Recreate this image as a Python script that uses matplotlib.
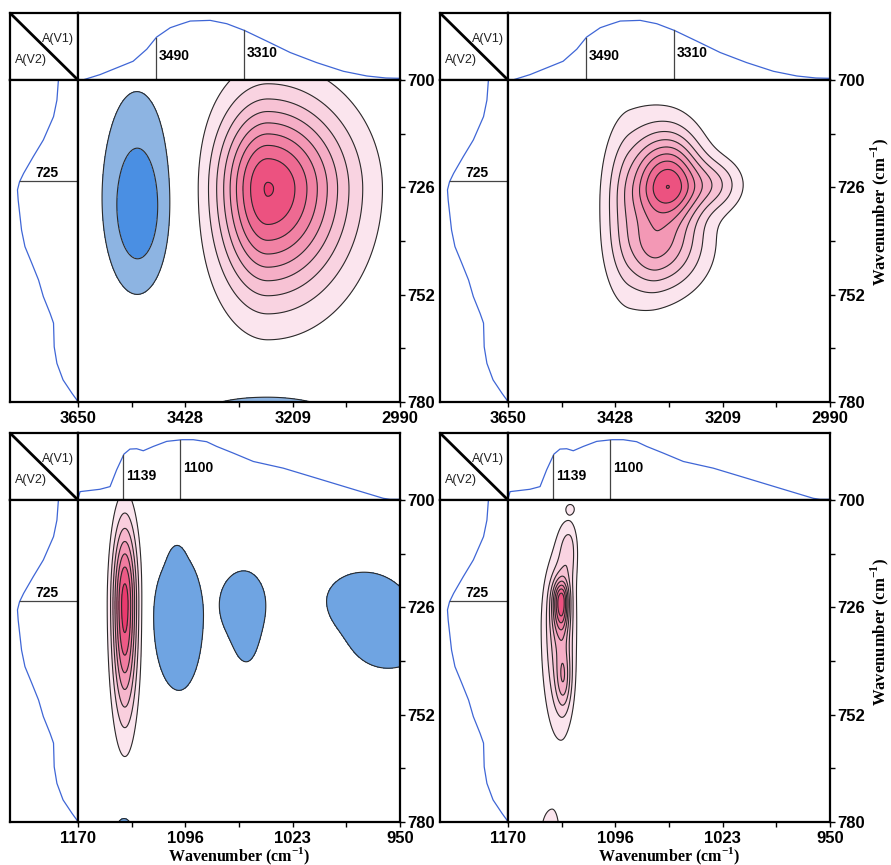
import numpy as np
import matplotlib.pyplot as plt
from matplotlib.colors import LinearSegmentedColormap
from matplotlib.transforms import offset_copy

plt.rcParams['font.family'] = ['Liberation Sans', 'DejaVu Sans']
plt.rcParams['mathtext.fontset'] = 'custom'
plt.rcParams['mathtext.rm'] = 'Liberation Serif'
plt.rcParams['mathtext.bf'] = 'Liberation Serif:bold'

# ---- 1D spectra ----
# top spectrum of the upper panels (O-H region)
oh_wn = [3636, 3605, 3571, 3537, 3509, 3489, 3461, 3441, 3420, 3379, 3345, 3309,
         3263, 3215, 3161, 3106, 3058, 3019, 2990]
oh_int = [0.01, 0.08, 0.18, 0.28, 0.46, 0.64, 0.78, 0.83, 0.88, 0.89, 0.84, 0.74,
          0.58, 0.41, 0.26, 0.13, 0.06, 0.03, 0.025]
oh_marks = [3490, 3310]

# top spectrum of the lower panels (C-O region)
co_wn = [1170, 1168.6, 1155, 1148.1, 1143.6, 1138.6, 1134.5, 1129.9, 1125.4, 1118.5,
         1109.4, 1098.9, 1091.2, 1082.1, 1075.3, 1063.9, 1050.2, 1029.7, 1006.9,
         984.2, 961.4, 956.8, 950]
co_int = [0.01, 0.125, 0.16, 0.2, 0.45, 0.685, 0.76, 0.765, 0.735, 0.8, 0.875, 0.9,
          0.9, 0.87, 0.8, 0.7, 0.575, 0.475, 0.325, 0.175, 0.025, 0.01, 0.01]
co_marks = [1139, 1100]

# left spectrum, same in all panels
ch_wn = [700.4, 705.0, 709.1, 714.9, 719.1, 723.2, 725.3, 727.3, 729.8, 737.3, 741.4,
         745.5, 749.7, 753.8, 758.0, 760.4, 766.3, 770.4, 774.5, 777.8, 779.9]
ch_int = [0.29, 0.31, 0.36, 0.51, 0.66, 0.80, 0.86, 0.89, 0.88, 0.83, 0.78, 0.68,
          0.58, 0.51, 0.41, 0.36, 0.35, 0.31, 0.22, 0.09, 0.0]
ch_mark = 725

# ---- 2D correlation peaks ----
# (x0, y0, width toward high x, width toward low x, width up, width down, amplitude)
sync_oh_peaks = [(3261, 727, 71, 112, 15, 17.9, 0.905),
                 (3529, 727, 60, 60, 22, 21, -0.18),
                 (3527, 733, 34, 34, 10, 10, -0.14),
                 (3262, 788, 114, 114, 6.3, 6.3, -0.33)]
async_oh_peaks = [(3318, 726, 50, 45, 8.5, 6.5, 0.7),
                  (3340, 742, 45, 65, 6, 7, 0.32),
                  (3400, 733, 40, 85, 16, 15, 0.3),
                  (3225, 726, 40, 40, 4.5, 4.5, 0.25)]
sync_co_peaks = [(1138, 726, 6, 6, 14, 18.8, 0.75),
                 (1101, 729, 9.75, 9.2, 8.5, 10.2, -0.5),
                 (1102.5, 716, 3.5, 3.5, 3, 3, -0.15),
                 (1057, 726, 9, 8.4, 4.6, 5, -0.5),
                 (1055, 732, 5.5, 5, 5, 5, -0.35),
                 (975, 725, 13.9, 14, 3.9, 4.5, -0.5),
                 (958, 733, 15, 15, 5, 4.9, -0.5),
                 (1138.5, 782.5, 3.2, 3.2, 1.95, 1.95, -0.5)]
async_co_peaks = [(1133.6, 725, 4, 3.5, 3.5, 5, 0.55),
                  (1134, 732, 8, 6.5, 12, 16.5, 0.4),
                  (1128, 712, 5, 4, 5, 6, 0.2),
                  (1132, 744.7, 3.5, 3.5, 5, 5, 0.22),
                  (1127.4, 702.2, 2.2, 2.2, 0.9, 0.9, 0.15),
                  (1140, 783, 6, 4, 5, 5, 0.2)]

y_ticklabels = ['700', '726', '752', '780']
oh_ticklabels = ['3650', '3428', '3209', '2990']
co_ticklabels = ['1170', '1096', '1023', '950']

W, H = 891, 865
fig = plt.figure(figsize=(W / 100, H / 100), dpi=100)
pink = LinearSegmentedColormap.from_list('pk', ['#fbe5ee', '#f6b6cc', '#f07b9f', '#ea3a6e'])
spec_color = '#3f66d6'


def px_axes(x0, y0, x1, y1):
    a = fig.add_axes([x0 / W, 1 - y1 / H, (x1 - x0) / W, (y1 - y0) / H])
    for s in a.spines.values():
        s.set_linewidth(1.6)
    return a


def field(X, Y, peaks):
    Z = np.zeros_like(X)
    for x0, y0, sxh, sxl, syu, syd, amp in peaks:
        sx = np.where(X > x0, sxh, sxl)
        sy = np.where(Y < y0, syu, syd)
        Z += amp * np.exp(-0.5 * (((X - x0) / sx) ** 2 + ((Y - y0) / sy) ** 2))
    return Z


def panel(left, top, xlim, xlabels, top_wn, top_int, marks, mark_y, peaks,
          n_pos, neg_levels, neg_colors, xlabel):
    dx, dy = left + 68, top + 67
    right, bottom = left + 390, top + 389

    # corner box
    axc = px_axes(left, top, dx, dy)
    axc.plot([0, 1], [1, 0], color='k', lw=2)
    axc.set_xlim(0, 1)
    axc.set_ylim(0, 1)
    axc.set_xticks([])
    axc.set_yticks([])
    axc.text(0.71, 0.61, 'A(V1)', ha='center', va='center', fontsize=9, color='#222222')
    axc.text(0.31, 0.30, 'A(V2)', ha='center', va='center', fontsize=9, color='#222222')

    # top spectrum
    axt = px_axes(dx, top, right, dy)
    axt.plot(top_wn, top_int, color=spec_color, lw=0.9)
    for m, ly in zip(marks, mark_y):
        h = np.interp(m, top_wn[::-1], top_int[::-1])
        axt.plot([m, m], [0, h], color='#444444', lw=0.9)
        axt.text(m, ly, str(m), ha='left', va='center', fontsize=10, fontweight='bold',
                 transform=offset_copy(axt.transData, fig, x=3, units='dots'))
    axt.set_xlim(xlim)
    axt.set_ylim(0, 1)
    axt.set_xticks([])
    axt.set_yticks([])

    # left spectrum
    axl = px_axes(left, dy, dx, bottom)
    axl.plot(ch_int, ch_wn, color=spec_color, lw=0.9)
    h = np.interp(ch_mark, ch_wn, ch_int)
    axl.plot([h, 0], [ch_mark, ch_mark], color='#444444', lw=0.9)
    axl.text(0.456, ch_mark, str(ch_mark), ha='center', va='bottom', fontsize=10,
             fontweight='bold', transform=offset_copy(axl.transData, fig, y=1, units='dots'))
    axl.set_xlim(1, 0)
    axl.set_ylim(780, 700)
    axl.set_xticks([])
    axl.set_yticks([])

    # 2D map
    ax = px_axes(dx, dy, right, bottom)
    X, Y = np.meshgrid(np.linspace(xlim[0], xlim[1], 500), np.linspace(700, 780, 500))
    Z = field(X, Y, peaks)
    pos_levels = [0.1 * (i + 1) for i in range(n_pos)]
    pos_colors = [pink(i / (n_pos - 1)) for i in range(n_pos)]
    ax.contourf(X, Y, Z, levels=pos_levels + [10], colors=pos_colors)
    ax.contourf(X, Y, Z, levels=[-10] + neg_levels, colors=neg_colors)
    ax.contour(X, Y, Z, levels=neg_levels + pos_levels, colors='#2a2a2a',
               linewidths=0.8, linestyles='solid')
    ax.set_xlim(xlim)
    ax.set_ylim(780, 700)
    ax.yaxis.tick_right()
    yt = np.linspace(700, 780, 4)
    ax.set_yticks(yt)
    ax.set_yticklabels(y_ticklabels)
    ax.set_yticks((yt[:-1] + yt[1:]) / 2, minor=True)
    xt = np.linspace(xlim[0], xlim[1], 4)
    ax.set_xticks(xt)
    ax.set_xticklabels(xlabels)
    ax.set_xticks((xt[:-1] + xt[1:]) / 2, minor=True)
    ax.tick_params(which='both', direction='out', length=3.5, width=1, labelsize=12)
    ax.tick_params(axis='x', pad=3)
    ax.tick_params(axis='y', pad=2)
    for t in ax.get_xticklabels() + ax.get_yticklabels():
        t.set_fontweight('bold')

    if xlabel:
        fig.text((dx + right) / 2 / W, 1 - (bottom + 34) / H, r'Wavenumber (cm$^{\mathbf{-1}}$)',
                 ha='center', va='center', fontsize=11.5, fontweight='bold',
                 family='Liberation Serif')


panel(10, 13, (3650, 2990), oh_ticklabels, oh_wn, oh_int, oh_marks, [0.36, 0.40],
      sync_oh_peaks, 9, [-0.2, -0.1], ['#4a8fe3', '#8db4e2'], False)
panel(440, 13, (3650, 2990), oh_ticklabels, oh_wn, oh_int, oh_marks, [0.36, 0.40],
      async_oh_peaks, 9, [-0.2, -0.1], ['#4a8fe3', '#8db4e2'], False)
panel(10, 433, (1170, 950), co_ticklabels, co_wn, co_int, co_marks, [0.36, 0.475],
      sync_co_peaks, 7, [-0.1], ['#6fa4e2'], True)
panel(440, 433, (1170, 950), co_ticklabels, co_wn, co_int, co_marks, [0.36, 0.475],
      async_co_peaks, 9, [-0.1], ['#6fa4e2'], True)

for yc in (212, 632):
    fig.text(880 / W, 1 - yc / H, r'Wavenumber (cm$^{\mathbf{-1}}$)', rotation=90,
             ha='center', va='center', fontsize=12, fontweight='bold', family='Liberation Serif')

fig.savefig('out.png', dpi=100)
